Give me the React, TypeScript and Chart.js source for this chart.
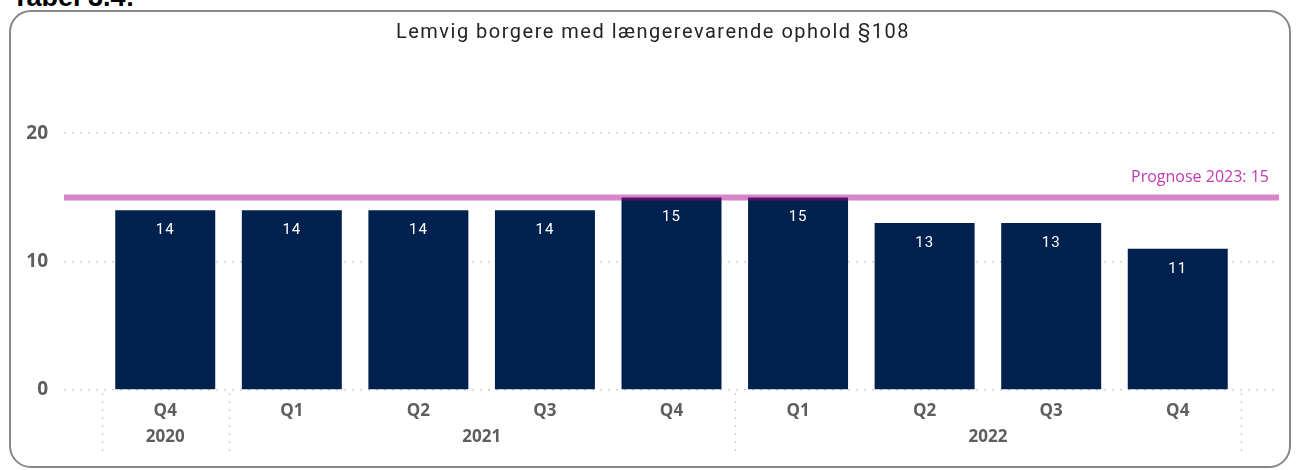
import React, { useEffect, useRef } from "react";
import { Chart, registerables } from "chart.js";

Chart.register(...registerables);

const quarters = ["Q4", "Q1", "Q2", "Q3", "Q4", "Q1", "Q2", "Q3", "Q4"];
const years = ["2020", "2021", "2022"];
const yearSpans = [1, 4, 4];
const values = [14, 14, 14, 14, 15, 15, 13, 13, 11];
const prognose = 15;
const prognoseLabel = "Prognose 2023: 15";
const yTicks = [0, 10, 20];
const title = "Lemvig borgere med længerevarende ophold §108";

const BAR_COLOR = "#00204e";
const AXIS_TEXT = "#605e5c";

const overlayPlugin = {
  id: "overlay",
  afterDatasetsDraw(chart: any) {
    const { ctx, chartArea, scales } = chart;
    const xs = scales.x;
    const ys = scales.y;
    ctx.save();

    // data labels
    ctx.fillStyle = "#ffffff";
    ctx.font = "15px Roboto";
    (ctx as any).letterSpacing = "1px";
    ctx.textAlign = "center";
    ctx.textBaseline = "middle";
    values.forEach((v, i) => {
      const x = xs.getPixelForValue(i);
      const y = ys.getPixelForValue(v);
      ctx.fillText(String(v), x, y + 20);
    });
    (ctx as any).letterSpacing = "0px";

    // prognose line
    const py = ys.getPixelForValue(prognose);
    ctx.strokeStyle = "rgba(174,0,143,0.48)";
    ctx.lineWidth = 6;
    ctx.beginPath();
    ctx.moveTo(chartArea.left, py);
    ctx.lineTo(chartArea.right, py);
    ctx.stroke();

    ctx.fillStyle = "#c239b3";
    ctx.font = "16px 'Open Sans'";
    ctx.textAlign = "right";
    ctx.textBaseline = "middle";
    ctx.fillText(prognoseLabel, chartArea.right - 10, py - 20);

    // title
    ctx.fillStyle = "#252423";
    ctx.font = "20px Roboto";
    (ctx as any).letterSpacing = "1.5px";
    ctx.textAlign = "center";
    ctx.fillText(title, 653, 33);
    (ctx as any).letterSpacing = "0px";

    // x axis labels
    ctx.fillStyle = AXIS_TEXT;
    ctx.font = "bold 17px 'Open Sans'";
    quarters.forEach((q, i) => {
      ctx.fillText(q, xs.getPixelForValue(i), chartArea.bottom + 21);
    });
    let start = 0;
    const seps: number[] = [xs.getPixelForValue(-0.5)];
    years.forEach((yr, k) => {
      const end = start + yearSpans[k] - 1;
      const cx = (xs.getPixelForValue(start) + xs.getPixelForValue(end)) / 2;
      ctx.fillText(yr, cx, chartArea.bottom + 47);
      seps.push(xs.getPixelForValue(end + 0.5));
      start = end + 1;
    });

    ctx.strokeStyle = "#cfcfcf";
    ctx.lineWidth = 1.5;
    ctx.setLineDash([2, 6]);
    seps.forEach((sx) => {
      ctx.beginPath();
      ctx.moveTo(Math.round(sx) + 0.5, chartArea.bottom + 3);
      ctx.lineTo(Math.round(sx) + 0.5, chartArea.bottom + 66);
      ctx.stroke();
    });
    ctx.restore();
  },
};

export default function App() {
  const ref = useRef<HTMLCanvasElement | null>(null);
  useEffect(() => {
    if (!ref.current) return;
    const chart = new Chart(ref.current, {
      type: "bar",
      data: {
        datasets: [
          {
            data: values.map((v, i) => ({ x: i, y: v })),
            backgroundColor: BAR_COLOR,
            borderWidth: 0,
            barPercentage: 0.79,
            categoryPercentage: 1,
          },
        ],
      },
      options: {
        animation: false,
        responsive: false,
        maintainAspectRatio: false,
        layout: { padding: { top: 69, bottom: 80, right: 18, left: 0 } },
        plugins: { legend: { display: false }, tooltip: { enabled: false } },
        scales: {
          x: {
            type: "linear",
            min: -0.8,
            max: 8.8,
            offset: false,
            display: false,
            afterBuildTicks: (axis: any) => {
              axis.ticks = values.map((_, i) => ({ value: i }));
            },
          },
          y: {
            min: 0,
            max: 25,
            afterBuildTicks: (axis: any) => {
              axis.ticks = yTicks.map((v) => ({ value: v }));
            },
            afterFit: (axis: any) => {
              axis.width = 64;
            },
            border: { display: false, dash: [2, 6] },
            grid: {
              color: "#cfcfcf",
              lineWidth: 1.5,
              drawTicks: false,
            },
            ticks: {
              padding: 16,
              color: AXIS_TEXT,
              font: { family: "'Open Sans'", size: 19, weight: "bold" },
            },
          },
        },
      },
      plugins: [overlayPlugin],
    } as any);
    return () => chart.destroy();
  }, []);

  return (
    <div style={{ position: "absolute", left: 0, top: 0, width: 1297, height: 470, overflow: "hidden", fontFamily: "'Liberation Sans', Arial, sans-serif" }}>
      <div style={{ position: "absolute", left: 12, top: -18, fontSize: 27, fontWeight: "bold", color: "#000", whiteSpace: "nowrap" }}>
        Tabel 3.4:
      </div>
      <div
        style={{
          position: "absolute",
          left: 9,
          top: 10,
          width: 1282,
          height: 458,
          boxSizing: "border-box",
          border: "2px solid #888888",
          borderRadius: 22,
        }}
      />
      <canvas ref={ref} width={1297} height={470} style={{ position: "absolute", left: 0, top: 0, width: 1297, height: 470 }} />
    </div>
  );
}
